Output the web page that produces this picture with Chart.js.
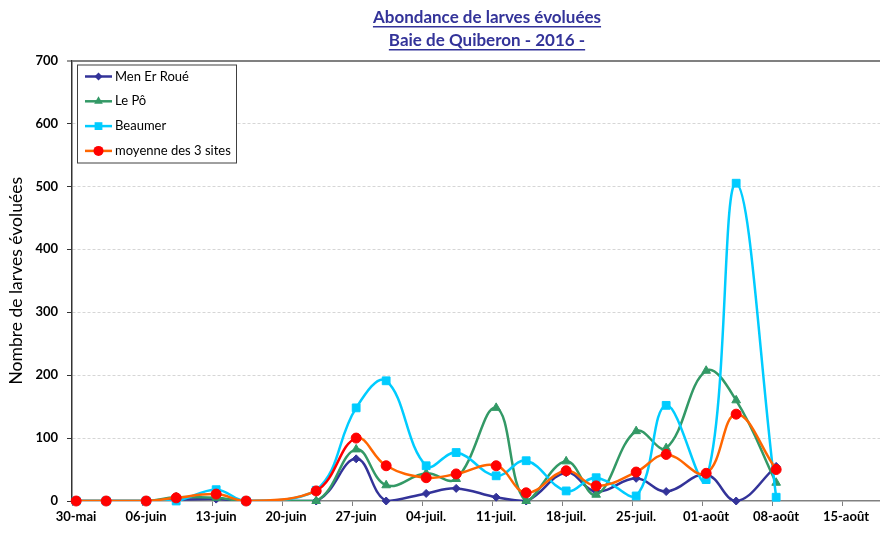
<!DOCTYPE html>
<html lang="fr">
<head>
<meta charset="utf-8">
<title>Abondance de larves évoluées - Baie de Quiberon 2016</title>
<script src="https://cdn.jsdelivr.net/npm/chart.js@4/dist/chart.umd.min.js"></script>
<style>
  html, body { margin: 0; padding: 0; background: #fff; }
  #chart { display: block; }
</style>
</head>
<body>
<canvas id="chart" width="880" height="533"></canvas>
<script>
// ===== Données =====
const TITLE_LINES = ['Abondance de larves évoluées', 'Baie de Quiberon - 2016 -']
const Y_TITLE = 'Nombre de larves évoluées'

const DATES = [
  '2016-05-30', '2016-06-02', '2016-06-06', '2016-06-09', '2016-06-13', '2016-06-16',
  '2016-06-23', '2016-06-27', '2016-06-30', '2016-07-04', '2016-07-07', '2016-07-11',
  '2016-07-14', '2016-07-18', '2016-07-21', '2016-07-25', '2016-07-28', '2016-08-01',
  '2016-08-04', '2016-08-08'
]
const MEN_ER_ROUE = [0, 0, 0, 2, 3, 0, 0, 67, 0, 12, 20, 6, 0, 45, 15, 36, 15, 42, 0, 55]
const LE_PO       = [0, 0, 0, 6, 5, 0, 0, 82, 25, 44, 35, 148, 0, 63, 10, 111, 84, 207, 160, 29]
const BEAUMER     = [0, 0, 0, 0, 18, 0, 17, 148, 191, 56, 77, 40, 64, 16, 37, 8, 152, 34, 505, 6]
const MOYENNE     = [0, 0, 0, 5, 11, 0, 16, 100, 56, 37, 43, 56, 13, 48, 24, 46, 74, 44, 138, 50]

const TICK_DATES = ['2016-05-30', '2016-06-06', '2016-06-13', '2016-06-20', '2016-06-27', '2016-07-04',
  '2016-07-11', '2016-07-18', '2016-07-25', '2016-08-01', '2016-08-08', '2016-08-15']
const TICK_LABELS = ['30-mai', '06-juin', '13-juin', '20-juin', '27-juin', '04-juil.',
  '11-juil.', '18-juil.', '25-juil.', '01-août', '08-août', '15-août']
const Y_TICKS = [0, 100, 200, 300, 400, 500, 600, 700]

// ===== Mise en forme =====
const FONT = 'Lato, "Open Sans", sans-serif'
const SAMPLE_HOUR = 10 // prélèvements vers 10h
const ORIGIN = Date.UTC(2016, 4, 30)
const X_MAX_DAYS = 80.8

function toDays(iso, hours = 0) {
  const [y, m, d] = iso.split('-').map(Number)
  return (Date.UTC(y, m - 1, d) - ORIGIN) / 86400000 + hours / 24
}

const SERIES = [
  { label: 'Men Er Roué', values: MEN_ER_ROUE, line: '#333399', marker: '#333399', style: 'rectRot', radius: 4 },
  { label: 'Le Pô', values: LE_PO, line: '#339966', marker: '#339966', style: 'triangle', radius: 5 },
  { label: 'Beaumer', values: BEAUMER, line: '#00CCFF', marker: '#00CCFF', style: 'rect', radius: 5.5 },
  { label: 'moyenne des 3 sites', values: MOYENNE, line: '#FF6600', marker: '#FF0000', style: 'circle', radius: 5 }
]

// Une courbe lissée (découpée à la zone) + les marqueurs (non découpés) par série
const datasets = []
SERIES.forEach((s, i) => {
  const pts = s.values.map((v, k) => ({ x: toDays(DATES[k], SAMPLE_HOUR), y: v }))
  const lineDs = {
    label: s.label,
    data: pts,
    borderColor: s.line,
    borderWidth: 2.5,
    pointRadius: 0,
    tension: 0.4,
    fill: false,
    order: 2 * (SERIES.length - i) - 1
  }
  if (s.label === 'moyenne des 3 sites') {
    // segment 23-juin -> 27-juin en rouge comme sur l'original
    lineDs.segment = { borderColor: c => (c.p0DataIndex === 6 ? '#FF0000' : undefined) }
  }
  datasets.push(lineDs)
  datasets.push({
    label: s.label + ' (points)',
    data: pts,
    showLine: false,
    pointStyle: s.style,
    pointRadius: s.radius,
    pointBackgroundColor: s.marker,
    pointBorderColor: s.marker,
    pointBorderWidth: 1,
    clip: false,
    order: 2 * (SERIES.length - i) - 2
  })
})

function drawMarker(ctx, style, x, y, r, color) {
  ctx.fillStyle = color
  ctx.beginPath()
  if (style === 'circle') {
    ctx.arc(x, y, r, 0, Math.PI * 2)
  } else if (style === 'rect') {
    const h = r * Math.SQRT1_2
    ctx.rect(x - h, y - h, 2 * h, 2 * h)
  } else if (style === 'rectRot') {
    ctx.moveTo(x, y - r); ctx.lineTo(x + r, y); ctx.lineTo(x, y + r); ctx.lineTo(x - r, y)
  } else if (style === 'triangle') {
    const dx = Math.cos(Math.PI / 6) * r
    ctx.moveTo(x, y - r); ctx.lineTo(x + dx, y + r / 2); ctx.lineTo(x - dx, y + r / 2)
  }
  ctx.closePath()
  ctx.fill()
}

// Titre souligné + légende encadrée (style Excel)
const decorPlugin = {
  id: 'decor',
  afterDraw(chart) {
    const ctx = chart.ctx
    ctx.save()

    // titre
    ctx.font = 'bold 17px ' + FONT
    ctx.fillStyle = '#333399'
    ctx.textAlign = 'center'
    ctx.textBaseline = 'alphabetic'
    TITLE_LINES.forEach((t, i) => {
      const cx = 487
      const y = 23 + i * 23
      ctx.fillText(t, cx, y)
      const w = ctx.measureText(t).width
      ctx.fillRect(cx - w / 2, y + 3, w, 1.5)
    })

    // légende
    const box = { x: 77, y: 64.5, w: 160, h: 99 }
    ctx.fillStyle = '#fff'
    ctx.fillRect(box.x, box.y, box.w, box.h)
    ctx.strokeStyle = '#404040'
    ctx.lineWidth = 1
    ctx.strokeRect(box.x + 0.5, box.y + 0.5, box.w - 1, box.h - 1)

    ctx.font = '13px ' + FONT
    ctx.textAlign = 'left'
    ctx.textBaseline = 'middle'
    SERIES.forEach((s, i) => {
      const y = 76.5 + i * 24.8
      ctx.strokeStyle = s.line
      ctx.lineWidth = 2.5
      ctx.beginPath()
      ctx.moveTo(85, y)
      ctx.lineTo(112, y)
      ctx.stroke()
      drawMarker(ctx, s.style, 98.5, y, s.radius, s.marker)
      ctx.fillStyle = '#000'
      ctx.fillText(s.label, 115, y)
    })
    ctx.restore()
  }
}

const tickDays = TICK_DATES.map(d => toDays(d))

new Chart(document.getElementById('chart'), {
  type: 'line',
  data: { datasets },
  options: {
    responsive: false,
    devicePixelRatio: 1,
    animation: false,
    events: [],
    layout: { autoPadding: false, padding: { top: 60.5, right: 0, bottom: 0, left: 0 } },
    plugins: {
      legend: { display: false },
      title: { display: false },
      tooltip: { enabled: false }
    },
    scales: {
      x: {
        type: 'linear',
        min: 0,
        max: X_MAX_DAYS,
        afterBuildTicks: scale => { scale.ticks = tickDays.map(v => ({ value: v })) },
        afterFit: scale => {
          scale.height = 32
          scale.paddingLeft = 0
          scale.paddingRight = 0
        },
        ticks: {
          autoSkip: false,
          maxRotation: 0,
          padding: 3,
          labelOffset: 4,
          color: '#000',
          font: { family: FONT, size: 13, weight: 'bold' },
          callback: (value, index) => TICK_LABELS[index]
        },
        grid: { drawOnChartArea: false, drawTicks: true, tickLength: 5, tickColor: '#808080', tickWidth: 1 },
        border: { color: '#808080', width: 1.5 }
      },
      y: {
        min: 0,
        max: 700,
        afterBuildTicks: scale => { scale.ticks = Y_TICKS.map(v => ({ value: v })) },
        afterFit: scale => { scale.width = 72 },
        ticks: {
          padding: 9,
          color: '#000',
          font: { family: FONT, size: 13, weight: 'bold' }
        },
        grid: {
          drawTicks: true,
          tickLength: 5,
          tickColor: '#333',
          tickWidth: 1,
          color: c => (c.tick && c.tick.value === 700 ? '#808080' : (c.tick && c.tick.value === 0 ? 'rgba(0,0,0,0)' : '#D6D6D6')),
          lineWidth: c => (c.tick && c.tick.value === 700 ? 2 : 1)
        },
        border: {
          color: '#333',
          width: 1.5,
          dash: c => (c.tick && c.tick.value !== 700 ? [3, 2] : [])
        },
        title: {
          display: true,
          text: Y_TITLE,
          color: '#000',
          font: { family: FONT, size: 17.5 },
          padding: { top: 6, bottom: 0 }
        }
      }
    }
  },
  plugins: [decorPlugin]
})
</script>
</body>
</html>
